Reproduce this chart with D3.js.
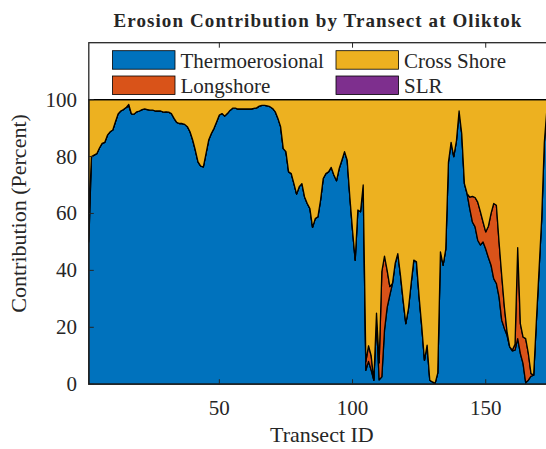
<!DOCTYPE html>
<html>
<head>
<meta charset="utf-8">
<script src="https://cdn.jsdelivr.net/npm/d3@7"></script>
<style>
html,body{margin:0;padding:0;background:#fff;}
svg{display:block;}
text{font-family:"Liberation Serif","DejaVu Serif",serif;fill:#262626;}
</style>
</head>
<body>
<svg id="chart" width="546" height="449"></svg>
<script>
// ---- data (percent contribution per transect) ----
const seriesNames = ["Thermoerosional", "Longshore", "Cross Shore", "SLR"];
const xTicks = [50, 100, 150];
const yTicks = [0, 20, 40, 60, 80, 100];

const thermoerosional = [
 50, 80, 80.5, 81, 83, 84.6, 85, 87.5, 88.7, 89.3,
 92.2, 95, 96, 96.5, 97.2, 97.8, 95, 94.9, 95.7, 96,
 96.5, 96.7, 96.5, 96.3, 96.3, 96, 96, 96, 95.6, 95.7,
 95.6, 95.1, 93.4, 92, 91.6, 91.6, 91.3, 90.5, 88.7, 85.8,
 82.2, 78.1, 76.6, 76.4, 81, 85.8, 88.1, 89.9, 92.2, 94.6,
 95.1, 94.2, 95.1, 96.2, 97, 97, 96.7, 96.7, 96.7, 96.7,
 96.7, 96.7, 96.9, 97.1, 97.7, 98, 98, 97.8, 97.5, 96.9,
 95.7, 93.4, 90.5, 82.8, 81.7, 74.6, 74, 70.5, 66.8, 69.4,
 70.5, 65.8, 63.5, 61.7, 55.1, 58.2, 58.8, 64.7, 72.3, 74,
 74.6, 76.2, 73.5, 71.5, 75.8, 78.7, 81.7, 78.7, 65.8, 54.1,
 43.6, 61.2, 60.6, 70, 4.9, 8, 5, 1.4, 22, 1.5,
 2.6, 19, 27, 31.3, 35.4, 42.4, 45.9, 38.3, 29.5, 21.3,
 26.6, 35.4, 43.6, 43, 30.7, 20.2, 8.4, 13.7, 1.4, 0.8,
 0.3, 4, 46.5, 41.8, 47.5, 78, 85, 80, 85.5, 96,
 88, 70.5, 67, 61.7, 57, 55.3, 50.6, 48.9, 50, 47.5,
 44.5, 41.8, 37.1, 35.4, 30.7, 22.5, 19.6, 17.2, 13.1, 11.7,
 12, 16, 10.8, 7.3, 0.5, 1.4, 2.8, 3.2, 22, 40,
 58, 85, 97
];
const longshore = [
 8, 0, 0, 0, 0, 0, 0, 0, 0, 0,
 0, 0, 0, 0, 0, 0.5, 0, 0, 0, 0,
 0, 0, 0, 0, 0, 0, 0, 0, 0, 0,
 0, 0, 0, 0, 0, 0, 0, 0, 0, 0,
 0, 0, 0, 0, 0, 0, 0, 0, 0, 0,
 0, 0, 0, 0, 0, 0, 0, 0, 0, 0,
 0, 0, 0, 0, 0, 0, 0, 0, 0, 0,
 0, 0, 0, 0, 0, 0, 0, 0, 0, 0,
 0, 0, 0, 0, 0, 0, 0, 0, 0, 0,
 0, 0, 0, 0, 0, 0, 0, 0, 0, 0,
 0, 0, 0, 0, 3, 5.5, 5, 0, 3, 6,
 37, 26, 13, 3, 0, 0, 0, 0, 0, 0,
 0, 0, 0, 0, 0, 0, 0, 0, 0, 0,
 0, 0, 0, 0, 0, 0, 0, 0, 0, 0,
 0, 0, 0, 4, 9, 10.3, 13.4, 11.7, 7, 6,
 11, 18.2, 26.4, 27.5, 19.3, 15.8, 7.6, 1.2, 0, 0.3,
 2, 32, 10.5, 9.3, 15.5, 9.4, 0.9, 0, 0, 0,
 0, 0, 0
];
const slr = thermoerosional.map(() => 0);
const transectIds = d3.range(1, thermoerosional.length + 1);

// ---- table for d3.stack (cross shore is the remainder to 100 %) ----
const table = transectIds.map((id, i) => ({
  id,
  "Thermoerosional": thermoerosional[i],
  "Longshore": longshore[i],
  "Cross Shore": Math.max(0, 100 - thermoerosional[i] - longshore[i] - slr[i]),
  "SLR": slr[i]
}));

const colors = {
  "Thermoerosional": "#0072BD",
  "Cross Shore": "#EDB120",
  "Longshore": "#D95319",
  "SLR": "#7E2F8E"
};

const svg = d3.select("#chart");
const plotL = 88.8, plotR = 547, plotT = 42.7, plotB = 384.2;
const x = d3.scaleLinear().domain([1, 173]).range([plotL, plotR]);
const y = d3.scaleLinear().domain([0, 120]).range([plotB, plotT]);

svg.append("rect").attr("x", plotL).attr("y", plotT)
  .attr("width", plotR - plotL).attr("height", plotB - plotT).attr("fill", "#fff");

const stack = d3.stack().keys(seriesNames);
const layers = stack(table);
const area = d3.area()
  .x(d => x(d.data.id))
  .y0(d => y(d[0]))
  .y1(d => y(d[1]));

svg.append("g").selectAll("path").data(layers).join("path")
  .attr("d", area)
  .attr("fill", d => colors[d.key])
  .attr("stroke", "#000")
  .attr("stroke-width", 1.3)
  .attr("stroke-linejoin", "round");

const axisColor = "#262626";
const g = svg.append("g");
g.append("rect").attr("x", plotL).attr("y", plotT)
  .attr("width", plotR - plotL).attr("height", plotB - plotT)
  .attr("fill", "none").attr("stroke", axisColor).attr("stroke-width", 1.3);

const tickLen = 5;
xTicks.forEach(t => {
  g.append("line").attr("x1", x(t)).attr("x2", x(t)).attr("y1", plotB).attr("y2", plotB - tickLen)
    .attr("stroke", axisColor).attr("stroke-width", 1);
  g.append("line").attr("x1", x(t)).attr("x2", x(t)).attr("y1", plotT).attr("y2", plotT + tickLen)
    .attr("stroke", axisColor).attr("stroke-width", 1);
  g.append("text").attr("x", x(t)).attr("y", 415).attr("text-anchor", "middle")
    .attr("font-size", 21).text(t);
});
yTicks.forEach(t => {
  g.append("line").attr("x1", plotL).attr("x2", plotL + tickLen).attr("y1", y(t)).attr("y2", y(t))
    .attr("stroke", axisColor).attr("stroke-width", 1);
  g.append("text").attr("x", 77).attr("y", y(t) + 7).attr("text-anchor", "end")
    .attr("font-size", 21).text(t);
});

svg.append("text").attr("x", (plotL + plotR) / 2 - 0.5).attr("y", 26.5).attr("text-anchor", "middle")
  .attr("font-size", 19).attr("font-weight", "bold").attr("fill", "#000")
  .attr("textLength", 408).attr("lengthAdjust", "spacing")
  .text("Erosion Contribution by Transect at Oliktok");
svg.append("text").attr("x", (plotL + plotR) / 2 + 4).attr("y", 442).attr("text-anchor", "middle")
  .attr("font-size", 22).text("Transect ID");
svg.append("text").attr("transform", `translate(26,${(plotT + plotB) / 2}) rotate(-90)`)
  .attr("text-anchor", "middle").attr("font-size", 22).text("Contribution (Percent)");

const legendItems = [
  {name: "Thermoerosional", col: 0, row: 0},
  {name: "Cross Shore", col: 1, row: 0},
  {name: "Longshore", col: 0, row: 1},
  {name: "SLR", col: 1, row: 1}
];
const lg = svg.append("g");
legendItems.forEach(it => {
  const sx = it.col === 0 ? 112.5 : 336;
  const sy = 50.7 + it.row * 25.3;
  lg.append("rect").attr("x", sx).attr("y", sy).attr("width", 62.5).attr("height", 18.5)
    .attr("fill", colors[it.name]).attr("stroke", "#000").attr("stroke-width", 0.8);
  lg.append("text").attr("x", sx + 68).attr("y", sy + 17).attr("font-size", 21).text(it.name);
});
</script>
</body>
</html>
